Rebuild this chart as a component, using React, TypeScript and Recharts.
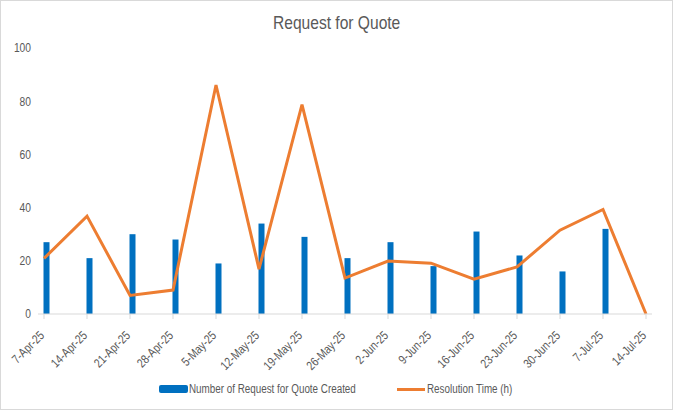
import React from 'react';
import { ComposedChart, Bar, Line, XAxis, YAxis, Legend } from 'recharts';

const weeks = ['7-Apr-25','14-Apr-25','21-Apr-25','28-Apr-25','5-May-25','12-May-25','19-May-25','26-May-25','2-Jun-25','9-Jun-25','16-Jun-25','23-Jun-25','30-Jun-25','7-Jul-25','14-Jul-25'];
const requestsCreated = [27, 21, 30, 28, 19, 34, 29, 21, 27, 18, 31, 22, 16, 32, 0];
const resolutionTime = [20.9, 36.8, 7.0, 9.0, 86.1, 16.9, 78.7, 13.5, 19.9, 19.1, 13.1, 17.7, 31.5, 39.3, 0];
const yTicks = [0, 20, 40, 60, 80, 100];

const data = weeks.map((w, i) => ({ idx: i, week: w, requests: requestsCreated[i], resolution: resolutionTime[i] }));

const FONT = "'Liberation Sans', Arial, sans-serif";
const NARROW = 0.82;
const TEXT = '#595959';
const BLUE = '#0070C0';
const ORANGE = '#ED7D31';

const XTick = (props: any) => {
  const { x, y, payload } = props;
  const px = x - 2;
  const py = y + 12;
  return (
    <g transform={`translate(${px} ${py}) rotate(-45) scale(${NARROW} 1)`}>
      <text x={0} y={0} textAnchor="end" dy="0.35em" fill={TEXT} fontSize={12.5} fontFamily={FONT}>
        {weeks[payload.value]}
      </text>
    </g>
  );
};

const YTick = (props: any) => {
  const { x, y, payload } = props;
  return (
    <g transform={`translate(${x} ${y}) scale(${NARROW} 1)`}>
      <text x={0} y={0} textAnchor="end" dy="0.35em" fill={TEXT} fontSize={12.5} fontFamily={FONT}>
        {payload.value}
      </text>
    </g>
  );
};

const narrowSpan: React.CSSProperties = { display: 'inline-block', transform: `scaleX(${NARROW})`, transformOrigin: 'left center', whiteSpace: 'nowrap' };

const LegendContent = () => (
  <div style={{ position: 'relative', width: 671, height: 20, fontFamily: FONT, fontSize: 12, color: TEXT }}>
    <div style={{ position: 'absolute', left: 158, top: 8, width: 29, height: 8, background: BLUE, borderRadius: 2 }} />
    <div style={{ position: 'absolute', left: 188, top: 4, lineHeight: '16px' }}><span style={narrowSpan}>Number of Request for Quote Created</span></div>
    <div style={{ position: 'absolute', left: 396, top: 11, width: 28, height: 3, background: ORANGE }} />
    <div style={{ position: 'absolute', left: 426, top: 4, lineHeight: '16px' }}><span style={narrowSpan}>Resolution Time (h)</span></div>
  </div>
);

export default function App() {
  return (
    <div style={{ position: 'fixed', left: 0, top: 0, width: 671, height: 408, border: '1px solid #d9d9d9', background: '#fff', overflow: 'hidden' }}>
      <div style={{ position: 'absolute', left: 0, top: 10, width: 671, textAlign: 'center', fontFamily: FONT, fontSize: 19, color: TEXT, lineHeight: '24px' }}>
        <span style={{ display: 'inline-block', transform: `scaleX(${NARROW})`, transformOrigin: 'center center', whiteSpace: 'nowrap' }}>Request for Quote</span>
      </div>
      <ComposedChart width={671} height={408} data={data} margin={{ top: 47, right: 20, left: 0, bottom: 12 }}>
        <XAxis
          dataKey="idx"
          type="number"
          domain={[0, 14]}
          ticks={weeks.map((_, i) => i)}
          interval={0}
          padding={{ left: 6, right: 6 }}
          axisLine={{ stroke: '#d9d9d9' }}
          tickLine={{ stroke: '#d9d9d9' }}
          tickSize={5}
          tick={<XTick />}
          height={63}
        />
        <YAxis
          domain={[0, 100]}
          ticks={yTicks}
          axisLine={false}
          tickLine={false}
          width={37}
          tickMargin={1}
          tick={<YTick />}
        />
        <Legend verticalAlign="bottom" content={<LegendContent />} />
        <Bar dataKey="requests" barSize={6} shape={(p: any) => (p.height > 0 ? <rect x={p.x + p.width / 2} y={p.y} width={p.width} height={p.height} fill={BLUE} /> : <g />)} isAnimationActive={false} />
        <Line dataKey="resolution" stroke={ORANGE} strokeWidth={3} dot={false} isAnimationActive={false} />
      </ComposedChart>
    </div>
  );
}
